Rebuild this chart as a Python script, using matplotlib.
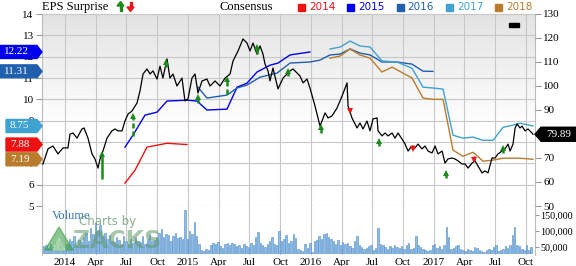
import numpy as np
import matplotlib
matplotlib.use('Agg')
import matplotlib.pyplot as plt
from matplotlib.patches import Polygon, Rectangle
from matplotlib.transforms import IdentityTransform

# ---- data (x in decimal years) ----
price_t = [2013.821, 2013.862, 2013.902, 2013.943, 2013.984, 2014.024, 2014.041, 2014.065,
           2014.098, 2014.138, 2014.155, 2014.187, 2014.220, 2014.244, 2014.269, 2014.285,
           2014.309, 2014.342, 2014.382, 2014.407, 2014.431, 2014.464, 2014.488, 2014.513,
           2014.545, 2014.586, 2014.610, 2014.635, 2014.667, 2014.692, 2014.716, 2014.749,
           2014.773, 2014.797, 2014.830, 2014.854, 2014.879, 2014.911, 2014.952, 2014.976,
           2015.001, 2015.033, 2015.058, 2015.082, 2015.115, 2015.155, 2015.180, 2015.221,
           2015.261, 2015.302, 2015.343, 2015.367, 2015.408, 2015.448, 2015.481, 2015.505,
           2015.530, 2015.562, 2015.587, 2015.611, 2015.627, 2015.652, 2015.668, 2015.692,
           2015.733, 2015.774, 2015.806, 2015.831, 2015.855, 2015.888, 2015.912, 2015.937,
           2015.969, 2015.993, 2016.034, 2016.075, 2016.116, 2016.140, 2016.172, 2016.213,
           2016.254, 2016.295, 2016.303, 2016.335, 2016.376, 2016.400, 2016.425, 2016.457,
           2016.482, 2016.506, 2016.539, 2016.547, 2016.579, 2016.604, 2016.628, 2016.661,
           2016.685, 2016.710, 2016.742, 2016.767, 2016.791, 2016.823, 2016.848, 2016.872,
           2016.905, 2016.929, 2016.954, 2016.986, 2017.011, 2017.035, 2017.068, 2017.092,
           2017.116, 2017.149, 2017.173, 2017.198, 2017.230, 2017.255, 2017.279, 2017.312,
           2017.336, 2017.360, 2017.393, 2017.417, 2017.442, 2017.474, 2017.499, 2017.523,
           2017.556, 2017.580, 2017.605, 2017.621, 2017.645, 2017.662, 2017.678, 2017.702,
           2017.718, 2017.743, 2017.767, 2017.800, 2017.808]
price_v = [67.5, 73.8, 75.0, 71.7, 74.2, 74.2, 80.0, 80.4,
           78.3, 82.1, 82.5, 78.3, 71.7, 69.6, 65.8, 69.6,
           72.9, 78.3, 81.3, 82.1, 81.3, 81.3, 85.4, 88.3,
           89.6, 92.9, 97.9, 105.0, 107.1, 105.0, 106.3, 102.9,
           108.3, 103.3, 111.3, 103.3, 105.0, 100.0, 103.3, 93.8,
           94.6, 103.3, 105.0, 97.1, 102.1, 102.9, 100.0, 102.1,
           100.0, 103.3, 105.0, 110.4, 114.6, 119.6, 117.9, 114.6,
           117.9, 113.3, 116.7, 113.3, 109.2, 106.3, 102.1, 107.5,
           98.8, 103.3, 105.0, 106.3, 107.1, 105.4, 104.2, 101.3,
           102.9, 99.2, 91.7, 83.3, 88.8, 86.7, 87.5, 90.8,
           95.8, 101.3, 91.7, 86.7, 82.5, 84.6, 82.1, 85.4,
           81.3, 86.3, 86.7, 81.3, 79.2, 80.4, 79.2, 80.4,
           78.3, 80.4, 77.9, 75.8, 72.9, 75.0, 74.2, 75.8,
           73.8, 75.0, 72.9, 72.1, 75.0, 71.7, 72.9, 67.9,
           69.6, 70.0, 69.6, 68.8, 67.5, 67.5, 65.8, 67.9,
           68.8, 66.7, 63.8, 64.6, 63.8, 70.0, 70.0, 71.7,
           72.9, 73.8, 75.8, 72.9, 75.8, 82.5, 84.2, 82.5,
           83.3, 81.3, 82.1, 80.4, 79.89]

eps14_t = [2014.488, 2014.570, 2014.667, 2014.749, 2014.830, 2014.993]
eps14_v = [6.07, 6.68, 7.76, 7.85, 7.94, 7.88]
eps15_t = [2014.488, 2014.553, 2014.651, 2014.749, 2014.830, 2014.993, 2015.074, 2015.155,
           2015.318, 2015.400, 2015.481, 2015.562, 2015.668, 2015.733, 2015.831, 2015.993]
eps15_v = [7.76, 8.32, 9.26, 9.40, 9.92, 9.96, 9.92, 9.50,
           9.54, 10.57, 10.76, 11.28, 11.60, 11.70, 12.08, 12.22]
eps16_t = [2015.082, 2015.155, 2015.318, 2015.400, 2015.481, 2015.587, 2015.725, 2015.831,
           2015.993, 2016.075, 2016.156, 2016.238, 2016.319, 2016.400, 2016.482, 2016.579,
           2016.701, 2016.823, 2016.913, 2016.994]
eps16_v = [10.57, 10.06, 10.20, 10.53, 10.67, 11.04, 11.23, 11.70,
           11.75, 11.84, 12.08, 12.12, 12.36, 12.17, 12.08, 11.75,
           11.75, 11.65, 11.32, 11.31]
eps17_t = [2016.156, 2016.238, 2016.319, 2016.400, 2016.482, 2016.579, 2016.701, 2016.823,
           2016.913, 2016.994, 2017.076, 2017.157, 2017.238, 2017.320, 2017.401, 2017.483,
           2017.564, 2017.645, 2017.702, 2017.808]
eps17_v = [12.36, 12.45, 12.73, 12.50, 12.45, 11.80, 11.75, 11.46,
           10.57, 10.53, 10.48, 8.32, 8.18, 8.23, 8.08, 8.08,
           8.69, 8.79, 8.88, 8.75]
eps18_t = [2016.156, 2016.238, 2016.319, 2016.400, 2016.482, 2016.579, 2016.661, 2016.823,
           2016.913, 2016.994, 2017.076, 2017.157, 2017.238, 2017.320, 2017.401, 2017.483,
           2017.564, 2017.702, 2017.808]
eps18_v = [11.93, 12.03, 12.36, 12.08, 11.93, 11.28, 11.51, 11.00,
           10.06, 10.00, 10.00, 7.62, 7.33, 7.52, 7.10, 7.15,
           7.24, 7.24, 7.19]

beat_t = [2014.301, 2014.553, 2014.822, 2015.082, 2015.318, 2015.562, 2015.814, 2016.083,
          2016.555, 2017.100, 2017.564]
beat_from = [61.3, 79.2, 107.9, 92.9, 96.7, 113.3, 104.2, 80.4, 75.0, 61.7, 72.1]
beat_to = [72.9, 88.8, 111.3, 96.7, 104.2, 117.5, 107.5, 84.2, 78.3, 65.0, 75.4]
miss_t = [2016.319, 2016.832, 2017.328]
miss_from = [90.8, 75.4, 70.8]
miss_to = [88.3, 72.5, 67.9]

# weekly volume, thousands
volume = [52, 55, 48, 58, 50, 62, 45, 70, 55, 40,
          60, 75, 68, 85, 55, 72, 65, 80, 95, 70,
          110, 90, 125, 100, 118, 85, 95, 75, 88, 70,
          65, 80, 72, 60, 85, 68, 58, 75, 62, 80,
          70, 65, 85, 60, 75, 90, 68, 72, 80, 95,
          105, 80, 92, 88, 70, 85, 95, 78, 82, 75,
          165, 75, 100, 92, 128, 85, 60, 40, 38, 45,
          42, 55, 62, 58, 66, 52, 48, 60, 64, 55,
          62, 58, 52, 55, 48, 60, 54, 50, 62, 57,
          80, 97, 62, 55, 50, 58, 70, 82, 60, 55,
          100, 68, 75, 88, 62, 70, 92, 78, 45, 40,
          38, 58, 48, 62, 35, 70, 72, 85, 75, 90,
          95, 82, 75, 68, 60, 72, 55, 65, 58, 62,
          52, 48, 70, 85, 55, 50, 45, 48, 52, 55,
          42, 48, 109, 60, 55, 50, 45, 52, 48, 55,
          50, 48, 52, 45, 55, 62, 45, 48, 85, 55,
          50, 45, 40, 38, 42, 55, 60, 48, 52, 45,
          55, 112, 80, 45, 48, 52, 55, 45, 40, 38,
          45, 42, 38, 50, 48, 40, 38, 35, 42, 45,
          40, 50, 55, 38, 42, 45, 52, 48, 55, 87,
          112, 55, 52, 45, 40, 55, 42, 50]
vol_start = 2013.826

quarter_ticks = [2014, 2014.25, 2014.5, 2014.75, 2015, 2015.25, 2015.5, 2015.75,
                 2016, 2016.25, 2016.5, 2016.75, 2017, 2017.25, 2017.5, 2017.75]
quarter_labels = ['2014', 'Apr', 'Jul', 'Oct', '2015', 'Apr', 'Jul', 'Oct',
                  '2016', 'Apr', 'Jul', 'Oct', '2017', 'Apr', 'Jul', 'Oct']
years = ['2014', '2015', '2016', '2017', '2018']
colors = ['#ee1111', '#0000ee', '#1f5fae', '#3ea2d2', '#b87c2c']

# ---- layout in pixels ----
W, H = 576, 266
L, R, T, BM, BV = 42, 535, 14, 206, 255
XMIN, XMAX = 2013.813, 2017.824
serif = 'Liberation Serif'
grid_c = '#c8c8c8'

fig = plt.figure(figsize=(W / 100, H / 100), dpi=100)


def box(top, bottom):
    return [L / W, 1 - bottom / H, (R - L) / W, (bottom - top) / H]


ax_bg = fig.add_axes(box(T, BV))
ax_bg.set_xlim(XMIN, XMAX)
ax_bg.set_ylim(0, 1)
grad = np.ones((256, 1, 3))
g = np.linspace(0.89, 1.0, 120)
grad[:120, 0, :] = g[:, None]
ax_bg.imshow(grad, extent=[XMIN, XMAX, 0, 1], aspect='auto', origin='upper', zorder=0)
for q in quarter_ticks:
    ax_bg.axvline(q, color=grid_c, lw=0.8, zorder=1)
for s in ax_bg.spines.values():
    s.set_color('#bbbbbb')
    s.set_linewidth(0.8)
ax_bg.spines['bottom'].set_visible(False)
ax_bg.set_yticks([])
ax_bg.set_xticks(quarter_ticks)
ax_bg.set_xticklabels(quarter_labels, fontfamily=serif, fontsize=8)
ax_bg.tick_params(axis='x', length=0, pad=2)

ax = fig.add_axes(box(T, BM))
ax.patch.set_alpha(0)
ax.set_xlim(XMIN, XMAX)
ax.set_ylim(5, 14)
ax.set_yticks(range(5, 15))
ax.grid(axis='y', color=grid_c, lw=0.8)
ax.set_xticks([])
for s in ax.spines.values():
    s.set_visible(False)
ax.tick_params(axis='y', length=4, color='#999999', pad=2, labelsize=8)
for lab in ax.get_yticklabels():
    lab.set_fontfamily(serif)

for tt, vv, c in zip([eps14_t, eps15_t, eps16_t, eps17_t, eps18_t],
                     [eps14_v, eps15_v, eps16_v, eps17_v, eps18_v], colors):
    ax.plot(tt, vv, color=c, lw=1.0, zorder=3)

ax2 = ax.twinx()
ax2.set_ylim(50, 130)
ax2.set_yticks(range(50, 131, 10))
for s in ax2.spines.values():
    s.set_visible(False)
ax2.tick_params(axis='y', length=4, color='#999999', pad=2, labelsize=8)
for lab in ax2.get_yticklabels():
    lab.set_fontfamily(serif)
ax2.plot(price_t, price_v, color='black', lw=0.9, zorder=4)

# surprise arrows (marker centre sits a bit below the tip)
px_per_unit = (BM - T) / 80.0
off = 3.0 / px_per_unit
green, red = '#1b8a1b', '#e81818'
for i, (t, a, b) in enumerate(zip(beat_t, beat_from, beat_to)):
    ls = '-' if i == 0 else (0, (2, 1.2))
    ax2.plot([t, t], [a, b - off], color=green, lw=1.8, ls=ls, solid_capstyle='butt', zorder=5)
    ax2.plot(t, b - off, marker='^', ms=5, color=green, mew=0, zorder=6)
for t, a, b in zip(miss_t, miss_from, miss_to):
    ax2.plot([t, t], [a, b + off], color=red, lw=1.8, solid_capstyle='butt', zorder=5)
    ax2.plot(t, b + off, marker='v', ms=5, color=red, mew=0, zorder=6)

# volume
axv = fig.add_axes(box(BM, 254))
axv.patch.set_alpha(0)
axv.set_xlim(XMIN, XMAX)
axv.set_ylim(28.1, 178)
vol_t = vol_start + np.arange(len(volume)) / 52.18
axv.bar(vol_t, volume, width=0.012, color='#8dbde8', edgecolor='#4f8cc9', lw=0.4, zorder=2)
for s in axv.spines.values():
    s.set_visible(False)
axv.set_xticks([])
axv.yaxis.tick_right()
axv.set_yticks([50, 100, 150])
axv.set_yticklabels(['50,000', '100,000', '150,000'], fontfamily=serif, fontsize=7.3)
axv.tick_params(axis='y', length=3, color='#999999', pad=1)

# ---- header ----
fig.text(L / W, 1 - 7 / H, 'EPS Surprise', fontfamily=serif, fontsize=9, va='center')
fig.text(220 / W, 1 - 7 / H, 'Consensus', fontfamily=serif, fontsize=9, va='center')
ident = IdentityTransform()
fig.add_artist(Polygon([(117, H - 6), (124, H - 6), (120.5, H - 1.5)], closed=True,
                       color=green, transform=ident))
fig.add_artist(Rectangle((119.5, H - 11), 2, 5, color=green, transform=ident))
fig.add_artist(Polygon([(127, H - 7), (134, H - 7), (130.5, H - 11.5)], closed=True,
                       color=red, transform=ident))
fig.add_artist(Rectangle((129.5, H - 7), 2, 5, color=red, transform=ident))
for k, (yr, c) in enumerate(zip(years, colors)):
    x0 = 298 + 49.3 * k
    fig.add_artist(Rectangle((x0, H - 11), 7, 7, color=c, transform=ident))
    fig.text((x0 + 11) / W, 1 - 7.5 / H, yr, color=c, fontsize=7.5, va='center')
fig.add_artist(Rectangle((509, H - 27), 10, 4, color='black', transform=ident))

# ---- value tags ----
fig.canvas.draw()
for vv, c in zip([eps15_v, eps16_v, eps17_v, eps14_v, eps18_v],
                 [colors[1], colors[2], colors[3], colors[0], colors[4]]):
    v = vv[-1]
    yd = ax.transData.transform((XMIN, v))[1]
    x0 = 0 if v >= 10 else 6
    fig.add_artist(Polygon([(x0, yd - 6.5), (37, yd - 6.5), (42, yd), (37, yd + 6.5), (x0, yd + 6.5)],
                           closed=True, color=c, transform=ident, zorder=10))
    fig.text((x0 + 4) / W, yd / H, '%.2f' % v, color='white', fontfamily=serif, fontsize=8,
             va='center', zorder=11)
last = price_v[-1]
yd = ax2.transData.transform((XMAX, last))[1]
fig.add_artist(Polygon([(535, yd), (541, yd - 7), (576, yd - 7), (576, yd + 7), (541, yd + 7)],
                       closed=True, color='black', transform=ident, zorder=10))
fig.text(546 / W, yd / H, '%.2f' % last, color='white', fontfamily=serif, fontsize=8,
         va='center', zorder=11)

# ---- watermark ----
fig.text(52 / W, 1 - 216 / H, 'Volume', color='#3a78b5', fontfamily=serif, fontsize=9, va='center')
fig.text(79 / W, 1 - 221 / H, 'Charts by', color='#6c9c72', fontsize=8.5, va='center', alpha=0.8)
fig.text(73 / W, 1 - 241 / H, 'ZACKS', color='#5d9a68', fontsize=17, fontweight='bold',
         va='center', alpha=0.55)
fig.add_artist(Polygon([(45, H - 250), (73, H - 250), (59, H - 227)], closed=True,
                       color='#3fa048', alpha=0.6, transform=ident))
fig.add_artist(Polygon([(53, H - 250), (65, H - 250), (59, H - 238)], closed=True,
                       color='#b8e0b8', alpha=0.7, transform=ident))

fig.savefig('out.png', dpi=100)
